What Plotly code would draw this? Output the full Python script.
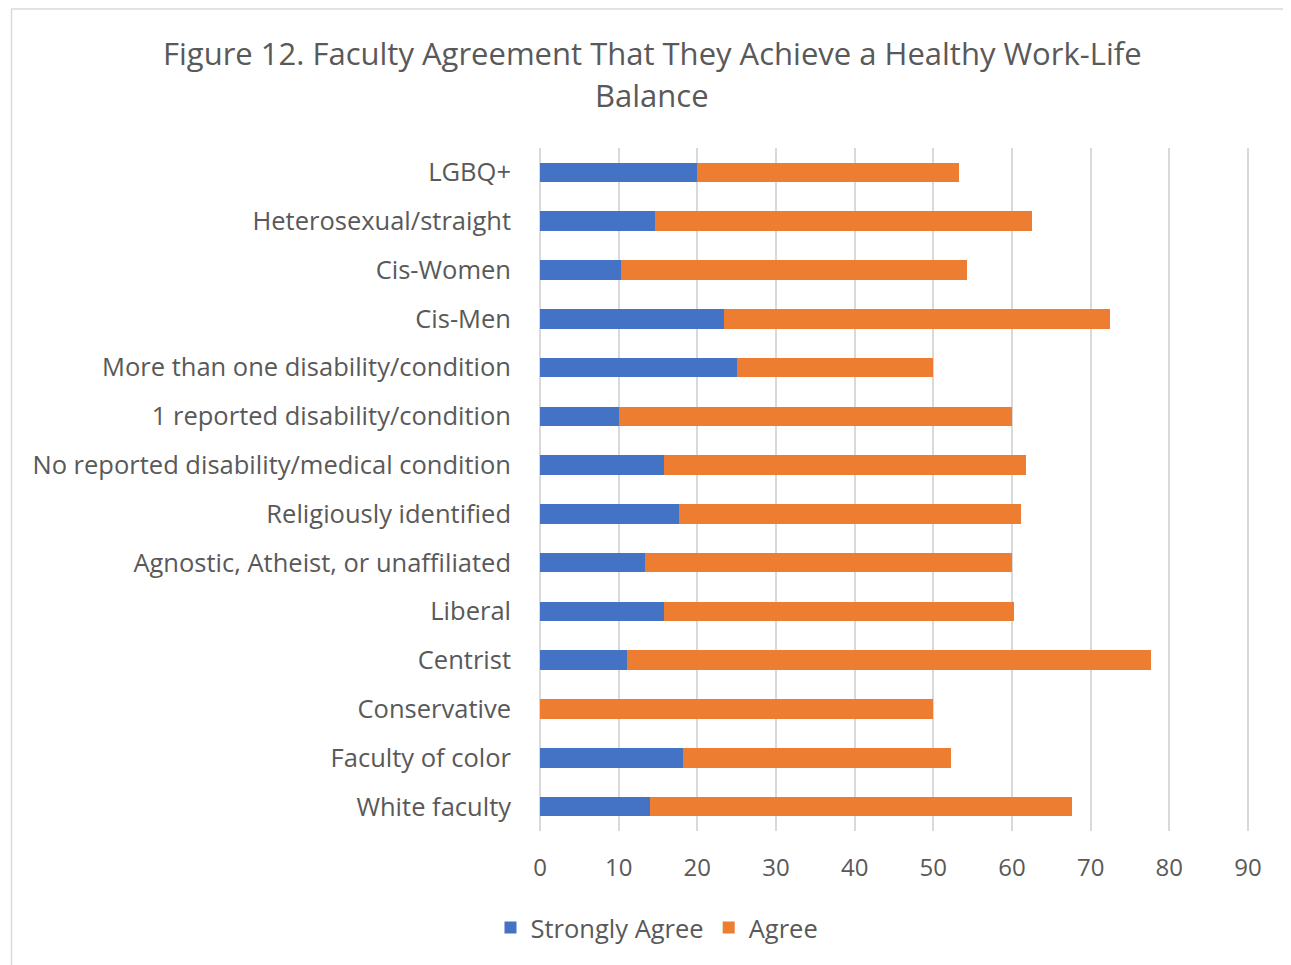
import plotly.graph_objects as go

categories = [
    "LGBQ+",
    "Heterosexual/straight",
    "Cis-Women",
    "Cis-Men",
    "More than one disability/condition",
    "1 reported disability/condition",
    "No reported disability/medical condition",
    "Religiously identified",
    "Agnostic, Atheist, or unaffiliated",
    "Liberal",
    "Centrist",
    "Conservative",
    "Faculty of color",
    "White faculty",
]
strongly_agree = [20.0, 14.6, 10.3, 23.4, 25.0, 10.0, 15.7, 17.7, 13.3, 15.7, 11.1, 0.0, 18.2, 14.0]
agree = [33.3, 47.9, 44.0, 49.0, 25.0, 50.0, 46.1, 43.5, 46.7, 44.6, 66.6, 50.0, 34.0, 53.6]
x_ticks = [0, 10, 20, 30, 40, 50, 60, 70, 80, 90]
title_lines = ["Figure 12. Faculty Agreement That They Achieve a Healthy Work-Life", "Balance"]

FONT = "Open Sans"
GREY = "#595959"
OFF = 8  # page body margin

fig = go.Figure()
fig.add_trace(go.Bar(y=categories, x=strongly_agree, orientation="h", name="Strongly Agree",
                     marker=dict(color="#4472C4", line=dict(width=0))))
fig.add_trace(go.Bar(y=categories, x=agree, orientation="h", name="Agree",
                     marker=dict(color="#ED7D31", line=dict(width=0))))

W, H = 1291 - OFF, 965 - OFF
px0, px1 = 540 - OFF, 1248 - OFF
py0, py1 = 147.5 - OFF, 831 - OFF
L, R, T, B = px0, W - px1, py0, H - py1
pw, ph = px1 - px0, py1 - py0

annotations = [
    dict(text=title_lines[0], xref="paper", yref="paper",
         x=(652 - OFF - L) / pw, y=1 + (py0 - (52 - OFF)) / ph,
         xanchor="center", yanchor="middle", showarrow=False,
         font=dict(family=FONT, size=31, color=GREY)),
    dict(text=title_lines[1], xref="paper", yref="paper",
         x=(652 - OFF - L) / pw, y=1 + (py0 - (94 - OFF)) / ph,
         xanchor="center", yanchor="middle", showarrow=False,
         font=dict(family=FONT, size=31, color=GREY)),
]

fig.update_layout(
    width=W, height=H,
    barmode="stack", bargap=0.6,
    plot_bgcolor="white", paper_bgcolor="white",
    margin=dict(l=L, r=R, t=T, b=B, pad=0),
    font=dict(family=FONT, color=GREY, size=25.5),
    annotations=annotations,
    xaxis=dict(range=[0, 90], tickvals=x_ticks, showgrid=True, gridcolor="#D9D9D9", gridwidth=2,
               zeroline=True, zerolinecolor="#D9D9D9", zerolinewidth=2,
               showline=False, ticks="", tickfont=dict(size=24, color=GREY),
               ticklabelstandoff=20, fixedrange=True),
    yaxis=dict(categoryorder="array", categoryarray=categories, autorange="reversed",
               showgrid=False, zeroline=False, showline=False, ticks="",
               ticklabelstandoff=28, tickfont=dict(size=25.5, color=GREY), fixedrange=True),
    legend=dict(orientation="h", x=(657 - OFF) / W, xref="container", xanchor="center",
                y=1 - (928 - OFF) / H, yref="container", yanchor="middle",
                font=dict(size=25.5, color=GREY), traceorder="normal"),
    shapes=[
        dict(type="line", xref="paper", yref="paper",
             x0=1, x1=1, y0=0, y1=1,
             line=dict(color="#D9D9D9", width=2), layer="below"),
        dict(type="rect", xref="paper", yref="paper",
             x0=(11.5 - OFF - L) / pw, x1=(1290 - OFF - L) / pw,
             y0=-(H + 10 - py1) / ph, y1=1 + (py0 - (8.5 - OFF)) / ph,
             line=dict(color="#D9D9D9", width=1.5), layer="below"),
    ],
)

fig.write_html("out.html")
